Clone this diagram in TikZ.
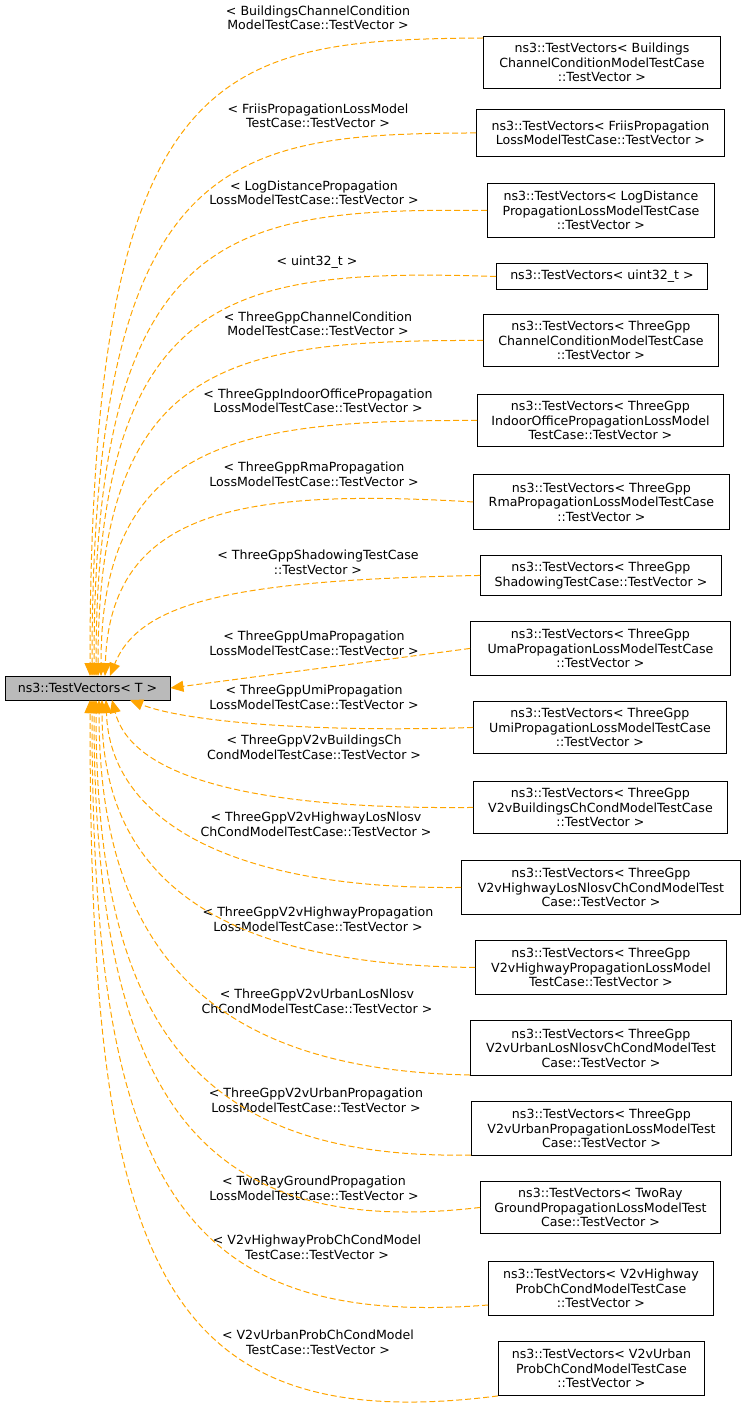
\documentclass[tikz,border=0pt]{standalone}
\usepackage{fontspec}
\setmainfont{DejaVu Sans}
\usetikzlibrary{arrows.meta}
\definecolor{edgeor}{HTML}{FFA500}
\begin{document}
\begin{tikzpicture}[x=1pt,y=-1pt,
  cls/.style={draw,rectangle,line width=0.9pt,inner sep=1pt,align=center,font=\fontsize{12.6}{14.6}\selectfont},
  lbl/.style={align=center,font=\fontsize{12.6}{14.6}\selectfont},
  inh/.style={draw=edgeor,line width=1pt,dash pattern=on 6pt off 3pt,-{Triangle[length=13pt,width=11pt]},fill=none}]
\useasboundingbox (0,0) rectangle (747,1420);
\node[cls,fill=black!27,minimum width=165,minimum height=24] (L) at (87.5,688) {ns3::TestVectors< T >};
\newcommand\rn[5]{\node[cls,minimum width=#3,minimum height=#4,anchor=north west] (#1) at (#2) {#5};}
\rn{r1}{483,36}{237}{52}{ns3::TestVectors< Buildings\\ChannelConditionModelTestCase\\::TestVector >}
\rn{r2}{476,109}{248}{47}{ns3::TestVectors< FriisPropagation\\LossModelTestCase::TestVector >}
\rn{r3}{487,183}{227}{54}{ns3::TestVectors< LogDistance\\PropagationLossModelTestCase\\::TestVector >}
\rn{r4}{496,263}{211}{26}{ns3::TestVectors< uint32\_t >}
\rn{r5}{483,314}{235}{52}{ns3::TestVectors< ThreeGpp\\ChannelConditionModelTestCase\\::TestVector >}
\rn{r6}{477,394}{246}{52}{ns3::TestVectors< ThreeGpp\\IndoorOfficePropagationLossModel\\TestCase::TestVector >}
\rn{r7}{473,474}{256}{55}{ns3::TestVectors< ThreeGpp\\RmaPropagationLossModelTestCase\\::TestVector >}
\rn{r8}{480,555}{241}{40}{ns3::TestVectors< ThreeGpp\\ShadowingTestCase::TestVector >}
\rn{r9}{470,621}{260}{54}{ns3::TestVectors< ThreeGpp\\UmaPropagationLossModelTestCase\\::TestVector >}
\rn{r10}{473,701}{253}{52}{ns3::TestVectors< ThreeGpp\\UmiPropagationLossModelTestCase\\::TestVector >}
\rn{r11}{473,781}{254}{52}{ns3::TestVectors< ThreeGpp\\V2vBuildingsChCondModelTestCase\\::TestVector >}
\rn{r12}{461,860}{279}{54}{ns3::TestVectors< ThreeGpp\\V2vHighwayLosNlosvChCondModelTest\\Case::TestVector >}
\rn{r13}{475,940}{251}{54}{ns3::TestVectors< ThreeGpp\\V2vHighwayPropagationLossModel\\TestCase::TestVector >}
\rn{r14}{470,1020}{261}{55}{ns3::TestVectors< ThreeGpp\\V2vUrbanLosNlosvChCondModelTest\\Case::TestVector >}
\rn{r15}{471,1101}{260}{54}{ns3::TestVectors< ThreeGpp\\V2vUrbanPropagationLossModelTest\\Case::TestVector >}
\rn{r16}{480,1181}{240}{52}{ns3::TestVectors< TwoRay\\GroundPropagationLossModelTest\\Case::TestVector >}
\rn{r17}{488,1261}{225}{54}{ns3::TestVectors< V2vHighway\\ProbChCondModelTestCase\\::TestVector >}
\rn{r18}{498,1341}{206}{54}{ns3::TestVectors< V2vUrban\\ProbChCondModelTestCase\\::TestVector >}
% labels
\node[lbl] (l1) at (318,18) {< BuildingsChannelCondition\\ModelTestCase::TestVector >};
\node[lbl] (l2) at (318,116) {< FriisPropagationLossModel\\TestCase::TestVector >};
\node[lbl] (l3) at (314,193) {< LogDistancePropagation\\LossModelTestCase::TestVector >};
\node[lbl] (l4) at (317,262) {< uint32\_t >};
\node[lbl] (l5) at (318,324) {< ThreeGppChannelCondition\\ModelTestCase::TestVector >};
\node[lbl] (l6) at (318,401) {< ThreeGppIndoorOfficePropagation\\LossModelTestCase::TestVector >};
\node[lbl] (l7) at (314,474) {< ThreeGppRmaPropagation\\LossModelTestCase::TestVector >};
\node[lbl] (l8) at (318,562) {< ThreeGppShadowingTestCase\\::TestVector >};
\node[lbl] (l9) at (314,643) {< ThreeGppUmaPropagation\\LossModelTestCase::TestVector >};
\node[lbl] (l10) at (314,697) {< ThreeGppUmiPropagation\\LossModelTestCase::TestVector >};
\node[lbl] (l11) at (314,747) {< ThreeGppV2vBuildingsCh\\CondModelTestCase::TestVector >};
\node[lbl] (l12) at (316,824) {< ThreeGppV2vHighwayLosNlosv\\ChCondModelTestCase::TestVector >};
\node[lbl] (l13) at (318,919) {< ThreeGppV2vHighwayPropagation\\LossModelTestCase::TestVector >};
\node[lbl] (l14) at (317,1001) {< ThreeGppV2vUrbanLosNlosv\\ChCondModelTestCase::TestVector >};
\node[lbl] (l15) at (316,1100) {< ThreeGppV2vUrbanPropagation\\LossModelTestCase::TestVector >};
\node[lbl] (l16) at (314,1188) {< TwoRayGroundPropagation\\LossModelTestCase::TestVector >};
\node[lbl] (l17) at (317,1247) {< V2vHighwayProbChCondModel\\TestCase::TestVector >};
\node[lbl] (l18) at (318,1342) {< V2vUrbanProbChCondModel\\TestCase::TestVector >};
% edges above
\coordinate (t1) at (90,676); \coordinate (t2) at (92,676); \coordinate (t3) at (94,676);
\coordinate (t4) at (96,676); \coordinate (t5) at (98,676); \coordinate (t6) at (101,676);
\coordinate (t7) at (105,676); \coordinate (t8) at (110,676);
\draw[inh] (r1.west|-0,38) .. controls (220,40) and (90,60) .. (t1);
\draw[inh] (r2.west) .. controls (230,134) and (92,150) .. (t2);
\draw[inh] (r3.west) .. controls (230,208) and (94,225) .. (t3);
\draw[inh] (r4.west) .. controls (230,268) and (96,290) .. (t4);
\draw[inh] (r5.west) .. controls (230,340) and (98,360) .. (t5);
\draw[inh] (r6.west) .. controls (240,420) and (101,440) .. (t6);
\draw[inh] (r7.west) .. controls (240,488) and (110,510) .. (t7);
\draw[inh] (r8.west) .. controls (240,580) and (140,600) .. (t8);
\draw[inh] (r9.west) -- (L.east);
% edges below
\coordinate (b10) at (130,700); \coordinate (b11) at (112,700); \coordinate (b12) at (106,700);
\coordinate (b13) at (102,700); \coordinate (b14) at (99,700); \coordinate (b15) at (96,700);
\coordinate (b16) at (94,700); \coordinate (b17) at (92,700); \coordinate (b18) at (90,700);
\draw[inh] (r10.west) .. controls (300,733) and (180,720) .. (b10);
\draw[inh] (r11.west) .. controls (230,810) and (130,770) .. (b11);
\draw[inh] (r12.west) .. controls (230,890) and (110,820) .. (b12);
\draw[inh] (r13.west) .. controls (220,965) and (102,880) .. (b13);
\draw[inh] (r14.west|-0,1075) .. controls (220,1070) and (99,960) .. (b14);
\draw[inh] (r15.west|-0,1155) .. controls (200,1160) and (96,1030) .. (b15);
\draw[inh] (r16.west) .. controls (200,1240) and (94,1100) .. (b16);
\draw[inh] (r17.west|-0,1305) .. controls (170,1330) and (92,1170) .. (b17);
\draw[inh] (r18.south west) .. controls (150,1440) and (90,1250) .. (b18);
\end{tikzpicture}
\end{document}
